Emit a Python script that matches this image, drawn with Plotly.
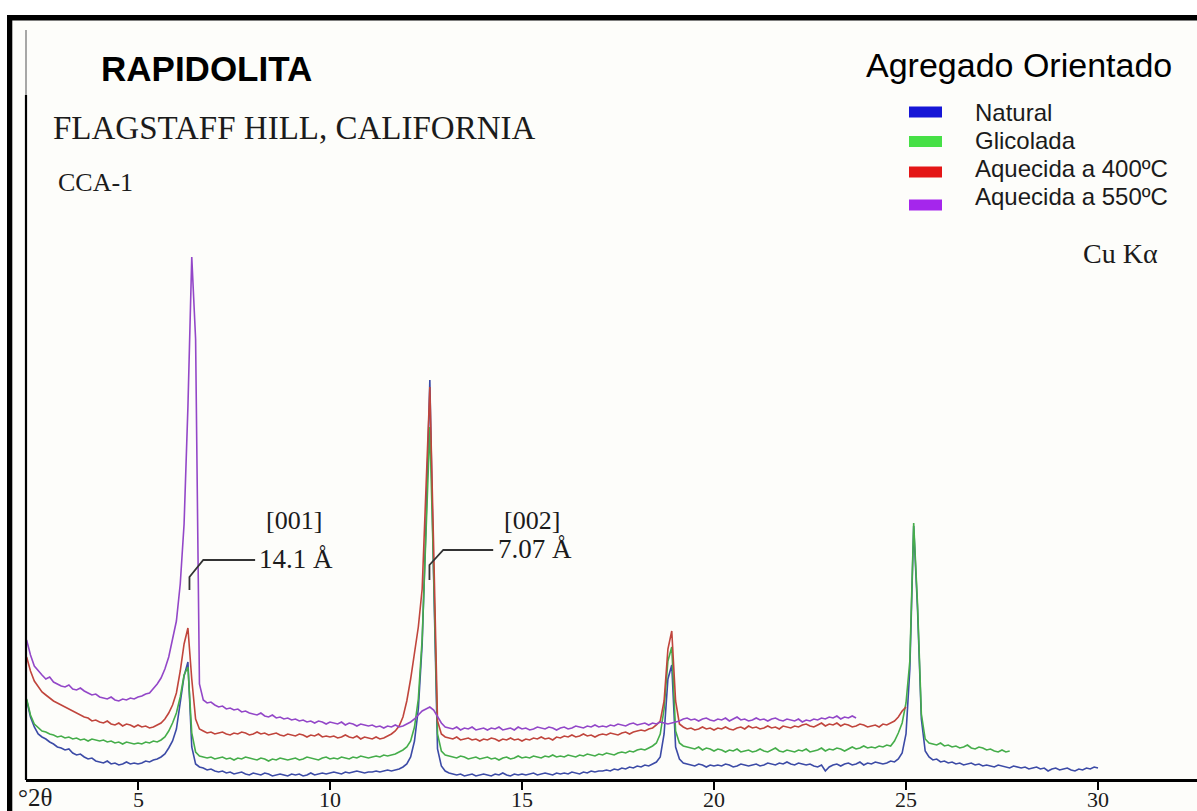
import plotly.graph_objects as go

# ---- scan definition (Cu K-alpha, degrees 2-theta) ----
TWO_THETA_START = 2.1
TWO_THETA_STEP = 0.1

# ---- diffracted intensity (arbitrary units), one value per step ----
natural = [
    79, 62, 52, 45, 42, 40, 37, 35, 32, 31,
    29, 30, 26, 24, 25, 22, 20, 21, 18, 17,
    16, 18, 15, 16, 14, 15, 17, 15, 16, 15,
    16, 18, 17, 19, 20, 22, 25, 31, 38, 50,
    76, 103, 117, 32, 15, 12, 11, 9, 10, 8,
    7, 8, 6, 7, 5, 6, 7, 5, 4, 6,
    5, 4, 6, 5, 3, 4, 5, 4, 3, 5,
    4, 5, 3, 4, 6, 4, 5, 6, 5, 6,
    7, 6, 5, 7, 6, 7, 8, 7, 6, 7,
    7, 8, 7, 8, 9, 8, 9, 10, 12, 15,
    22, 38, 70, 135, 255, 399, 200, 30, 13, 8,
    6, 5, 4, 5, 3, 4, 5, 3, 4, 5,
    4, 3, 5, 4, 6, 4, 3, 5, 4, 5,
    4, 5, 6, 4, 5, 6, 5, 4, 6, 5,
    6, 5, 7, 6, 5, 7, 6, 8, 7, 8,
    8, 9, 8, 10, 9, 11, 10, 12, 11, 13,
    12, 14, 13, 15, 17, 22, 45, 100, 114, 32,
    20, 16, 15, 14, 13, 15, 14, 12, 14, 13,
    14, 13, 15, 14, 12, 13, 15, 14, 13, 14,
    15, 13, 14, 16, 15, 14, 16, 15, 17, 15,
    14, 16, 15, 14, 15, 13, 12, 14, 8, 12,
    14, 15, 13, 15, 16, 14, 15, 17, 14, 16,
    15, 17, 16, 15, 16, 18, 17, 20, 26, 45,
    110, 253, 170, 60, 28, 22, 19, 20, 17, 18,
    16, 17, 15, 16, 14, 15, 16, 14, 15, 13,
    14, 13, 12, 14, 13, 12, 11, 13, 12, 11,
    12, 10, 11, 12, 10, 11, 8, 10, 11, 9,
    10, 11, 9, 8, 10, 9, 11, 10, 12, 11,
]

glicolada = [
    80, 64, 55, 51, 48, 47, 45, 44, 42, 43,
    41, 42, 40, 41, 39, 40, 38, 40, 39, 38,
    39, 37, 38, 36, 37, 35, 37, 36, 35, 36,
    35, 37, 36, 38, 37, 39, 42, 48, 56, 66,
    82, 104, 112, 46, 27, 23, 22, 21, 22, 20,
    21, 22, 20, 21, 19, 21, 20, 22, 21, 20,
    19, 21, 20, 18, 20, 19, 21, 20, 19, 20,
    21, 19, 20, 22, 21, 20, 19, 21, 22, 20,
    21, 20, 22, 21, 20, 22, 21, 23, 22, 21,
    22, 23, 22, 24, 23, 24, 25, 27, 29, 32,
    38, 52, 80, 140, 245, 352, 205, 45, 28, 24,
    23, 22, 21, 23, 22, 20, 21, 22, 20, 21,
    22, 20, 21, 19, 21, 22, 20, 21, 23, 21,
    22, 21, 23, 22, 21, 23, 22, 24, 22, 23,
    22, 24, 23, 22, 24, 23, 25, 24, 23, 25,
    24, 26, 25, 24, 26, 27, 26, 28, 27, 29,
    30, 29, 31, 33, 36, 45, 70, 118, 132, 48,
    36, 33, 32, 31, 30, 32, 29, 31, 30, 28,
    30, 29, 27, 29, 28, 30, 27, 28, 29, 27,
    28, 30, 28, 27, 29, 31, 28, 27, 29, 28,
    27, 29, 28, 30, 27, 28, 29, 31, 28, 30,
    29, 31, 30, 28, 30, 32, 30, 31, 33, 31,
    32, 31, 33, 32, 34, 33, 38, 46, 56, 76,
    118, 256, 175, 65, 40, 36, 35, 34, 36, 33,
    34, 32, 33, 31, 32, 34, 31, 30, 32, 31,
    29, 30, 28, 27, 29, 27, 28,
]

aquecida_400 = [
    122, 108, 98, 92, 87, 84, 81, 78, 76, 74,
    72, 70, 68, 66, 64, 62, 61, 58, 59, 57,
    56, 58, 55, 54, 56, 53, 55, 54, 52, 54,
    52, 53, 51, 52, 54, 56, 60, 66, 74, 86,
    108, 135, 151, 100, 60, 50, 48, 46, 47, 45,
    46, 47, 45, 44, 46, 45, 47, 46, 44, 45,
    47, 45, 46, 44, 45, 46, 44, 43, 45, 44,
    43, 45, 44, 42, 44, 43, 45, 42, 43, 42,
    43, 41, 42, 44, 42, 41, 43, 40, 42, 41,
    40, 42, 40, 41, 43, 45, 48, 53, 62, 78,
    100, 126, 152, 190, 285, 392, 230, 58, 45, 42,
    41, 40, 42, 39, 40, 41, 39, 40, 38, 40,
    39, 41, 40, 38, 40, 39, 41, 39, 40, 38,
    40, 39, 41, 40, 42, 40, 41, 39, 42, 41,
    43, 42, 44, 42, 43, 45, 43, 44, 42, 44,
    45, 44, 46, 45, 44, 46, 47, 45, 47, 48,
    49, 48, 50, 51, 54, 58, 78, 130, 148, 78,
    55, 52, 50, 51, 49, 50, 52, 50, 51, 49,
    51, 50, 52, 50, 49, 51, 52, 50, 53, 51,
    52, 50, 51, 53, 51, 52, 50, 53, 52, 51,
    53, 52, 54, 55, 53, 52, 54, 56, 53, 55,
    54, 56, 53, 55, 54, 52, 53, 55, 54, 52,
    53, 54, 52, 55, 54, 56, 58, 62, 68, 72,
]

aquecida_550 = [
    139, 124, 113, 108, 104, 100, 102, 97, 95, 93,
    92, 94, 90, 89, 91, 88, 86, 84, 85, 82,
    81, 80, 82, 79, 78, 80, 79, 81, 80, 82,
    83, 85, 86, 90, 95, 101, 110, 122, 140, 158,
    195, 255, 372, 522, 440, 95, 79, 76, 77, 74,
    72, 73, 70, 71, 69, 70, 67, 68, 66, 65,
    64, 66, 63, 62, 64, 61, 62, 60, 61, 59,
    60, 58, 59, 57, 58, 56, 58, 57, 55, 57,
    56, 55, 57, 54, 56, 55, 53, 55, 54, 53,
    54, 52, 53, 51, 53, 52, 54, 52, 53, 55,
    57, 60, 64, 68, 70, 72, 69, 63, 56, 52,
    51, 50, 52, 49, 51, 50, 52, 49, 50, 51,
    49, 51, 50, 52, 49, 50, 51, 49, 52, 50,
    51, 49, 50, 52, 51, 50, 52, 51, 49, 51,
    52, 50, 51, 53, 52, 51, 53, 52, 54, 52,
    53, 52, 54, 53, 55, 54, 53, 55, 56, 54,
    55, 56, 54, 56, 55, 57, 56, 55, 56, 57,
    58, 60, 61, 59, 60, 58, 60, 61, 59, 58,
    60, 59, 61, 58, 60, 62, 59, 60, 58, 59,
    61, 59, 60, 58, 60, 61, 59, 58, 60, 59,
    58, 60, 57, 59, 58, 60, 59, 61, 60, 62,
    61, 63, 60, 62, 61, 63, 61,
]

series_names = ["Natural", "Glicolada", "Aquecida a 400ºC", "Aquecida a 550ºC"]
x_ticks = [5, 10, 15, 20, 25, 30]

# basal reflections: (hkl, d-spacing label, 2-theta of the marker)
reflections = [("[001]", "14.1 Å", 6.34), ("[002]", "7.07 Å", 12.59)]

# ---- styling ----
W, H = 1197, 811
line_colors = ["#3c4ba6", "#45ad4a", "#c0453c", "#9347c8"]
swatch_colors = ["#1616d6", "#46e046", "#e41616", "#a526ec"]
SERIF = "Liberation Serif, Times New Roman, serif"
SANS = "Liberation Sans, Arial, sans-serif"
INK = "#1b1b1b"


def px(x):
    return x / W


def py(y):
    return 1 - y / H


def two_theta(values):
    return [round(TWO_THETA_START + i * TWO_THETA_STEP, 2) for i in range(len(values))]


fig = go.Figure()
for name, vals, col in zip(series_names,
                           [natural, glicolada, aquecida_400, aquecida_550],
                           line_colors):
    fig.add_trace(go.Scatter(x=two_theta(vals), y=vals, mode="lines", name=name,
                             line=dict(color=col, width=1.6), showlegend=False))

shapes = []
annotations = []

# outer frame and the bare intensity axis
shapes += [
    dict(type="rect", xref="paper", yref="paper", x0=0, x1=1, y0=py(15), y1=1,
         fillcolor="white", line_width=0, layer="below"),
    dict(type="rect", xref="paper", yref="paper", x0=0, x1=px(7), y0=0, y1=1,
         fillcolor="white", line_width=0, layer="below"),
    dict(type="rect", xref="paper", yref="paper", x0=px(7), x1=1, y0=py(20.5), y1=py(15),
         fillcolor="black", line_width=0),
    dict(type="rect", xref="paper", yref="paper", x0=px(7), x1=px(12.3), y0=0, y1=py(15),
         fillcolor="black", line_width=0),
    dict(type="line", xref="paper", yref="paper", x0=px(26), x1=px(26), y0=py(30), y1=py(95),
         line=dict(color="#8a8a8a", width=1.5)),
    dict(type="line", xref="paper", yref="paper", x0=px(26), x1=px(26), y0=py(95), y1=py(780),
         line=dict(color="black", width=2.2)),
]

# leader lines and labels for the basal reflections
for hkl, dlab, tt in reflections:
    if hkl == "[001]":
        y_lo, y_mid, y_hi, dx_bend, dx_end = 189, 202, 219, 0.36, 1.71
    else:
        y_lo, y_mid, y_hi, dx_bend, dx_end = 199, 214, 229, 0.36, 1.66
    shapes.append(dict(
        type="path", xref="x", yref="y",
        path=f"M {tt},{y_lo} L {tt},{y_mid} L {tt + dx_bend},{y_hi} L {tt + dx_end},{y_hi}",
        line=dict(color="#333333", width=1.8)))
    annotations.append(dict(x=tt + dx_end + 0.06, y=y_hi + 1, xref="x", yref="y",
                            text=dlab, showarrow=False, xanchor="left", yanchor="middle",
                            font=dict(family=SERIF, size=27, color=INK)))
    annotations.append(dict(x=tt + dx_end + 1.0, y=259, xref="x", yref="y",
                            text=hkl, showarrow=False, xanchor="center", yanchor="middle",
                            font=dict(family=SERIF, size=26, color=INK)))

# titles
annotations += [
    dict(x=px(99), y=py(68), text="<b>RAPIDOLITA</b>", font=dict(family=SANS, size=35, color="black")),
    dict(x=px(51), y=py(128), text="FLAGSTAFF HILL, CALIFORNIA", font=dict(family=SERIF, size=33, color=INK)),
    dict(x=px(56), y=py(183), text="CCA-1", font=dict(family=SERIF, size=26, color=INK)),
    dict(x=px(864), y=py(65), text="Agregado Orientado", font=dict(family=SANS, size=34, color="black")),
    dict(x=px(1081), y=py(253), text="Cu Kα", font=dict(family=SERIF, size=28, color=INK)),
    dict(x=px(16), y=py(797), text="°2θ", font=dict(family=SERIF, size=25, color=INK)),
]
for a in annotations[-6:]:
    a.update(xref="paper", yref="paper", showarrow=False, xanchor="left", yanchor="middle")

# x tick labels sit close under the short ticks
for t in x_ticks:
    annotations.append(dict(x=t, y=py(799), xref="x", yref="paper", text=str(t),
                            showarrow=False, xanchor="center", yanchor="middle",
                            font=dict(family=SERIF, size=22, color=INK)))

# legend: coloured swatches with labels
swatch_y = [112, 141.5, 172, 205]
text_y = [112.5, 140.5, 168, 196.5]
for name, col, sy, ty in zip(series_names, swatch_colors, swatch_y, text_y):
    shapes.append(dict(type="rect", xref="paper", yref="paper",
                       x0=px(909), x1=px(942), y0=py(sy + 5.5), y1=py(sy - 5.5),
                       fillcolor=col, line_width=0))
    annotations.append(dict(x=px(973), y=py(ty), xref="paper", yref="paper", text=name,
                            showarrow=False, xanchor="left", yanchor="middle",
                            font=dict(family=SANS, size=24, color=INK)))

fig.update_layout(
    template="none",
    width=W, height=H,
    margin=dict(l=0, r=0, t=0, b=0),
    paper_bgcolor="#fdfdfa",
    plot_bgcolor="rgba(0,0,0,0)",
    showlegend=False,
    shapes=shapes,
    annotations=annotations,
    xaxis=dict(
        domain=[px(26), 1],
        range=[5 - 112 / 38.4, 5 + 1059 / 38.4],
        tickmode="array", tickvals=x_ticks, showticklabels=False,
        ticks="outside", ticklen=8, tickwidth=2, tickcolor="black",
        showline=True, linecolor="black", linewidth=2.5,
        showgrid=False, zeroline=False, automargin=False,
    ),
    yaxis=dict(
        domain=[1 - 779 / H, 1],
        range=[0, 779],
        visible=False, automargin=False,
    ),
)

fig.write_html("out.html")
